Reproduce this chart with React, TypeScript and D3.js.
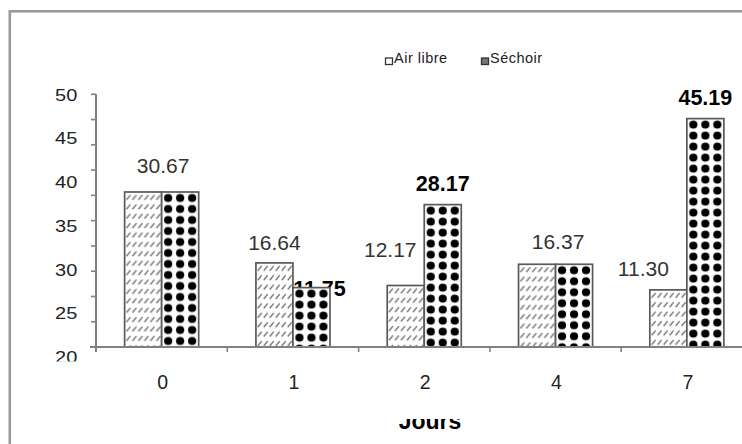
import React from "react";
import * as d3 from "d3";

// Drying time (days) and measured values for both drying methods
const days = ["0", "1", "2", "4", "7"];
const airLibre = [30.67, 16.64, 12.17, 16.37, 11.3];
const sechoir = [30.67, 11.75, 28.17, 16.37, 45.19];
const seriesNames = ["Air libre", "Séchoir"];
const yTickLabels = [50, 45, 40, 35, 30, 25, 20];

// Label nudges (layout only): [dx, dy] in pixels
const airLabelNudge: [number, number][] = [[1.5, -4.5], [0, 1.3], [-15.5, -14], [2.5, -1], [-25, 0]];
const sechoirLabelNudge: [number, number][] = [[0, 0], [8, 22], [0, 0], [0, 0], [0, 0]];

const W = 742;
const H = 444;
const FONT = "'Liberation Sans', Arial, sans-serif";

export default function App() {
  const plotLeft = 96;
  const step = 131.3;
  const x = d3
    .scaleBand<string>()
    .domain(days)
    .range([plotLeft, plotLeft + step * days.length])
    .paddingInner(0.436)
    .paddingOuter(0.218);
  const xs = d3.scaleBand<string>().domain(seriesNames).range([0, x.bandwidth()]);
  const y = d3.scaleLinear().domain([0, 50]).range([347, 94.3]);
  const yLabel = d3.scaleLinear().domain([20, 50]).range([357.5, y(50) + 0.7]);
  const yTicks = d3.range(0, 51, 5);
  const bandEdges = d3.range(1, days.length).map((i) => x.range()[0] + i * x.step());

  const bars = days.flatMap((d, i) => [
    { key: `a${i}`, series: seriesNames[0], day: d, v: airLibre[i] },
    { key: `s${i}`, series: seriesNames[1], day: d, v: sechoir[i] },
  ]);

  const airLabels = days.map((d, i) => {
    const same = airLibre[i] === sechoir[i];
    const cx = same
      ? (x(d) as number) + x.bandwidth() / 2
      : (x(d) as number) + (xs(seriesNames[0]) as number) + xs.bandwidth() / 2;
    const top = y(airLibre[i]);
    return { key: `la${i}`, x: cx + airLabelNudge[i][0], y: top - 14 + airLabelNudge[i][1], text: airLibre[i].toFixed(2) };
  });
  const sechoirLabels = days
    .map((d, i) => ({ d, i }))
    .filter(({ i }) => airLibre[i] !== sechoir[i])
    .map(({ d, i }) => ({
      key: `ls${i}`,
      x: (x(d) as number) + (xs(seriesNames[1]) as number) + xs.bandwidth() / 2 + sechoirLabelNudge[i][0],
      y: y(sechoir[i]) - 14 + sechoirLabelNudge[i][1],
      text: sechoir[i].toFixed(2),
    }));

  return (
    <svg
      width={W}
      height={H}
      style={{ position: "absolute", left: 0, top: 0, background: "#fff" }}
      fontFamily={FONT}
    >
      <defs>
        {bars.map((b) => {
          const bx = (x(b.day) as number) + (xs(b.series) as number);
          const by = y(b.v);
          return b.series === seriesNames[0] ? (
            <pattern key={b.key} id={`p-${b.key}`} patternUnits="userSpaceOnUse" x={bx + 1} y={by + 1} width={6} height={9.4}>
              <rect width={6} height={9.4} fill="#fff" />
              <path d="M0.8,6.8 L4.8,2" stroke="#6e6e6e" strokeWidth={1.4} />
            </pattern>
          ) : (
            <pattern key={b.key} id={`p-${b.key}`} patternUnits="userSpaceOnUse" x={bx + 0.5} y={by + 0.5} width={12} height={11}>
              <rect width={12} height={11} fill="#fff" />
              <circle cx={6} cy={5.5} r={4.1} fill="#000" />
            </pattern>
          );
        })}
        <clipPath id="ylab-clip">
          <rect x={0} y={0} width={95} height={361.5} />
        </clipPath>
        <clipPath id="title-clip">
          <rect x={0} y={419} width={W} height={H - 419} />
        </clipPath>
      </defs>

      {/* outer frame */}
      <rect x={9.8} y={11.3} width={W + 40} height={H + 40} fill="none" stroke="#999" strokeWidth={2.6} />

      {/* legend */}
      {seriesNames.map((name, i) => {
        const lx = [385, 481][i];
        return (
          <g key={name}>
            <rect x={lx + 0.5} y={58} width={7} height={6.5} fill={i === 0 ? "#fff" : "#777"} stroke="#333" strokeWidth={1.3} />
            <text x={lx + 9} y={62.7} fontSize={14.5} letterSpacing={0.5} fill="#222">
              {name}
            </text>
          </g>
        );
      })}

      {/* value labels (drawn under the bars) */}
      {airLabels.map((l) => (
        <text key={l.key} x={l.x} y={l.y} fontSize={21} textAnchor="middle" fill="#333">
          {l.text}
        </text>
      ))}
      {sechoirLabels.map((l) => (
        <text key={l.key} x={l.x} y={l.y} fontSize={21.5} fontWeight="bold" textAnchor="middle" fill="#000">
          {l.text}
        </text>
      ))}

      {/* bars */}
      {bars.map((b) => {
        const bx = (x(b.day) as number) + (xs(b.series) as number);
        return (
          <rect
            key={b.key}
            x={bx}
            y={y(b.v)}
            width={xs.bandwidth()}
            height={y(0) - y(b.v)}
            fill={`url(#p-${b.key})`}
            stroke="#595959"
            strokeWidth={1.7}
          />
        );
      })}

      {/* y axis */}
      <line x1={plotLeft} x2={plotLeft} y1={y(50)} y2={352} stroke="#808080" strokeWidth={2} />
      {yTicks.map((t) => (
        <line key={t} x1={plotLeft - 5} x2={plotLeft} y1={y(t)} y2={y(t)} stroke="#808080" strokeWidth={1.6} />
      ))}
      <g clipPath="url(#ylab-clip)">
        {yTickLabels.map((t) => (
          <text
            key={t}
            transform={`translate(77.3,${yLabel(t)}) scale(1,0.78)`}
            dy="0.36em"
            fontSize={20}
            textAnchor="end"
            fill="#222"
          >
            {t}
          </text>
        ))}
      </g>

      {/* x axis */}
      <line x1={90} x2={W} y1={y(0)} y2={y(0)} stroke="#808080" strokeWidth={2} />
      {bandEdges.map((e, i) => (
        <line key={i} x1={e} x2={e} y1={y(0)} y2={y(0) + 5} stroke="#808080" strokeWidth={1.6} />
      ))}
      {days.map((d) => (
        <text key={d} x={(x(d) as number) + x.bandwidth() / 2 + 1} y={389} fontSize={19.5} textAnchor="middle" fill="#222">
          {d}
        </text>
      ))}

      {/* axis title */}
      <g clipPath="url(#title-clip)">
        <text x={430} y={428.5} fontSize={23} fontWeight="bold" textAnchor="middle" fill="#000">
          Jours
        </text>
      </g>
    </svg>
  );
}
